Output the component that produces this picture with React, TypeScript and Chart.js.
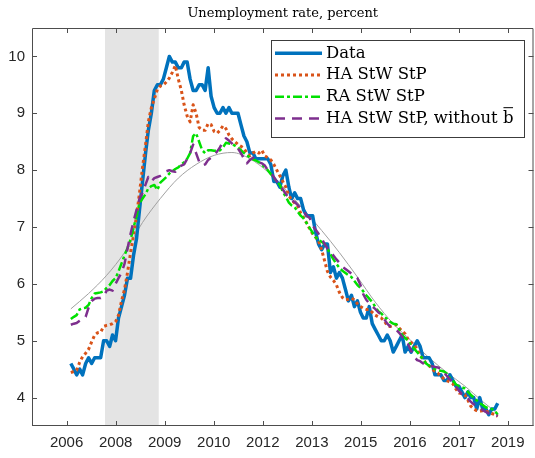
import React, { useEffect, useRef } from "react";
import { Chart, registerables } from "chart.js";

Chart.register(...registerables);

// ---------- data ----------
const START_YEAR = 2007; // monthly series start (January)
const MONTH_COUNT = 144;

const unemployment = [
  4.6, 4.5, 4.4, 4.5, 4.4, 4.6, 4.7, 4.6, 4.7, 4.7, 4.7, 5.0,
  5.0, 4.9, 5.1, 5.0, 5.4, 5.6, 5.8, 6.1, 6.1, 6.5, 6.8, 7.3,
  7.8, 8.3, 8.7, 9.0, 9.4, 9.5, 9.5, 9.6, 9.8, 10.0, 9.9, 9.9,
  9.8, 9.8, 9.9, 9.9, 9.6, 9.4, 9.4, 9.5, 9.5, 9.4, 9.8, 9.3,
  9.1, 9.0, 9.0, 9.1, 9.0, 9.1, 9.0, 9.0, 9.0, 8.8, 8.6, 8.5,
  8.3, 8.3, 8.2, 8.2, 8.2, 8.2, 8.2, 8.1, 7.8, 7.8, 7.7, 7.9,
  8.0, 7.7, 7.5, 7.6, 7.5, 7.5, 7.3, 7.2, 7.2, 7.2, 6.9, 6.7,
  6.6, 6.7, 6.7, 6.2, 6.3, 6.1, 6.2, 6.1, 5.9, 5.7, 5.8, 5.6,
  5.7, 5.5, 5.4, 5.4, 5.6, 5.3, 5.2, 5.1, 5.0, 5.0, 5.1, 5.0,
  4.8, 4.9, 5.0, 5.1, 4.8, 4.9, 4.8, 4.9, 5.0, 4.9, 4.7, 4.7,
  4.7, 4.6, 4.4, 4.4, 4.4, 4.3, 4.3, 4.4, 4.3, 4.2, 4.2, 4.1,
  4.0, 4.1, 4.0, 4.0, 3.8, 4.0, 3.8, 3.8, 3.7, 3.8, 3.8, 3.9,
];

const haStwStp = [
  4.44, 4.46, 4.48, 4.62, 4.72, 4.78, 4.85, 4.98, 5.1, 5.14, 5.15, 5.25,
  5.27, 5.28, 5.3, 5.33, 5.45, 5.7, 5.9, 6.2, 6.55, 6.85, 7.2, 7.6,
  8.05, 8.45, 8.85, 9.1, 9.25, 9.42, 9.48, 9.5, 9.55, 9.62, 9.72, 9.84,
  9.6, 9.4, 9.15, 8.95, 8.85, 9.15, 9.0, 8.75, 8.7, 8.7, 8.82, 8.8,
  8.68, 8.65, 8.7, 8.78, 8.73, 8.62, 8.55, 8.5, 8.45, 8.42, 8.38, 8.3,
  8.25, 8.3, 8.33, 8.3, 8.35, 8.25, 8.22, 8.18, 8.1, 8.0, 7.9, 7.8,
  7.7, 7.55, 7.48, 7.42, 7.37, 7.25, 7.17, 7.07, 6.97, 6.88, 6.82, 6.75,
  6.6, 6.4, 6.22, 6.12, 6.06, 5.98, 5.85, 5.76, 5.72, 5.73, 5.75, 5.72,
  5.65, 5.6, 5.57, 5.55, 5.55, 5.5, 5.45, 5.42, 5.4, 5.35, 5.27, 5.25,
  5.27, 5.28, 5.22, 5.17, 5.12, 5.02, 4.97, 4.92, 4.85, 4.74, 4.67, 4.6,
  4.56, 4.5, 4.46, 4.43, 4.37, 4.33, 4.3, 4.27, 4.24, 4.15, 4.08, 4.07,
  4.05, 3.95, 3.85, 3.8, 3.77, 3.76, 3.77, 3.77, 3.74, 3.72, 3.7, 3.67,
];

const raStwStp = [
  5.38, 5.42, 5.45, 5.55, 5.57, 5.58, 5.63, 5.75, 5.83, 5.84, 5.85, 5.87,
  5.93, 5.98, 6.05, 6.1, 6.22, 6.36, 6.5, 6.63, 6.78, 6.98, 7.2, 7.42,
  7.5, 7.58, 7.68, 7.72, 7.74, 7.65, 7.78, 7.83, 7.88, 7.94, 7.98, 8.02,
  8.05, 8.1, 8.14, 8.2, 8.3, 8.6, 8.65, 8.5, 8.35, 8.3, 8.35, 8.35,
  8.34, 8.34, 8.35, 8.4, 8.48, 8.47, 8.46, 8.43, 8.4, 8.35, 8.3, 8.26,
  8.22, 8.19, 8.17, 8.14, 8.1, 8.05, 8.0, 7.93, 7.87, 7.8, 7.74, 7.62,
  7.53, 7.43, 7.38, 7.35, 7.27, 7.2, 7.15, 7.07, 6.98, 6.9, 6.82, 6.77,
  6.74, 6.7, 6.62, 6.52, 6.43, 6.35, 6.28, 6.23, 6.19, 6.15, 6.12, 6.05,
  5.98, 5.93, 5.87, 5.8, 5.74, 5.68, 5.6, 5.52, 5.48, 5.42, 5.38, 5.33,
  5.3, 5.29, 5.2, 5.1, 5.05, 5.0, 4.92, 4.86, 4.8, 4.74, 4.67, 4.6,
  4.56, 4.53, 4.5, 4.48, 4.47, 4.46, 4.42, 4.34, 4.3, 4.23, 4.2, 4.18,
  4.16, 4.1, 4.05, 4.0, 3.95, 3.9, 3.87, 3.83, 3.81, 3.8, 3.77, 3.7,
];

const haStwStpNoB = [
  5.28, 5.3, 5.31, 5.35, 5.38, 5.42, 5.58, 5.7, 5.74, 5.75, 5.75, 5.78,
  5.88, 5.9, 5.88, 6.0, 6.1, 6.2, 6.35, 6.62, 6.88, 7.1, 7.3, 7.5,
  7.6, 7.75, 7.88, 7.8, 7.86, 7.88, 7.9, 7.94, 7.98, 8.0, 7.98, 7.97,
  8.05, 8.08, 8.1, 8.2, 8.3, 8.45, 8.3, 8.15, 8.08, 8.1, 8.18, 8.22,
  8.27, 8.33, 8.4, 8.5, 8.56, 8.52, 8.47, 8.42, 8.38, 8.3, 8.2, 8.12,
  8.18, 8.22, 8.18, 8.14, 8.12, 8.08, 8.0, 7.95, 7.88, 7.8, 7.76, 7.66,
  7.58, 7.52, 7.47, 7.44, 7.39, 7.33, 7.28, 7.2, 7.16, 7.03, 6.95, 6.88,
  6.8, 6.7, 6.62, 6.55, 6.5, 6.43, 6.37, 6.3, 6.26, 6.22, 6.18, 6.14,
  6.1, 5.98, 5.82, 5.72, 5.66, 5.6, 5.56, 5.5, 5.46, 5.38, 5.3, 5.25,
  5.22, 5.19, 5.14, 5.07, 5.0, 4.94, 4.82, 4.72, 4.66, 4.64, 4.6, 4.58,
  4.56, 4.55, 4.54, 4.53, 4.5, 4.44, 4.38, 4.32, 4.26, 4.2, 4.12, 4.06,
  4.04, 3.98, 3.93, 3.88, 3.86, 3.82, 3.78, 3.75, 3.72, 3.7, 3.69, 3.68,
];

// smooth trend (thin grey line), sampled every six months
const trendMonthIndex = [0, 6, 12, 18, 24, 30, 36, 42, 48, 54, 60, 66, 72, 78, 84, 90, 96, 102, 108, 114, 120, 126, 132, 138, 143];
const trendValues = [5.56, 5.83, 6.15, 6.55, 7.08, 7.5, 7.86, 8.1, 8.26, 8.31, 8.2, 7.97, 7.65, 7.31, 6.94, 6.55, 6.12, 5.68, 5.3, 5.0, 4.7, 4.44, 4.2, 3.93, 3.72];

const xTickDates = ["2006-11-19", "2008-04-02", "2009-08-15", "2010-12-28", "2012-05-11", "2013-09-23", "2015-02-04", "2016-06-18", "2017-10-31", "2019-03-14"];
const xTickLabels = ["2006", "2008", "2009", "2010", "2012", "2013", "2015", "2016", "2017", "2019"];
const yTickValues = [4, 5, 6, 7, 8, 9, 10];
const xRange = ["2005-12-01", "2019-12-01"];
const yRange = [3.5, 10.5];
const recession = ["2007-12-15", "2009-06-15"];

const seriesLabels = ["Data", "HA StW StP", "RA StW StP", "HA StW StP, without "];
const TITLE = "Unemployment rate, percent";

// ---------- styles ----------
const BLUE = "#0072BD";
const ORANGE = "#D95319";
const GREEN = "#00E000";
const PURPLE = "#7E2F8E";
const GREY = "#a0a0a0";
const AXIS = "#4d4d4d";
const TEXT = "#262626";
const SERIF = "'DejaVu Serif', serif";
const SANS = "'Liberation Sans', Arial, sans-serif";

const styles = [
  { color: BLUE, width: 3.5, dash: [] as number[] },
  { color: ORANGE, width: 3, dash: [3, 3] },
  { color: GREEN, width: 2.5, dash: [9, 3, 3, 3] },
  { color: PURPLE, width: 2.5, dash: [10, 7] },
];

const dayOf = (iso: string) => Date.parse(iso + "T00:00:00Z") / 86400000;
const monthDay = (i: number) => Date.UTC(START_YEAR, i, 1) / 86400000;
const monthly = (vals: number[]) => vals.slice(0, MONTH_COUNT).map((v, i) => ({ x: monthDay(i), y: v }));
const xTickDays = xTickDates.map(dayOf);

const decorPlugin = {
  id: "decor",
  beforeDatasetsDraw(chart: any) {
    const { ctx, chartArea: a, scales } = chart;
    const x0 = scales.x.getPixelForValue(dayOf(recession[0]));
    const x1 = scales.x.getPixelForValue(dayOf(recession[1]));
    ctx.save();
    ctx.fillStyle = "#e4e4e4";
    ctx.fillRect(x0, a.top, x1 - x0, a.bottom - a.top);
    ctx.restore();
  },
  afterDatasetsDraw(chart: any) {
    const { ctx, chartArea: a, scales } = chart;
    ctx.save();
    // frame
    ctx.strokeStyle = AXIS;
    ctx.lineWidth = 1;
    ctx.beginPath();
    ctx.moveTo(a.left + 0.5, a.top + 0.5);
    ctx.lineTo(a.right - 0.5, a.top + 0.5);
    ctx.lineTo(a.right - 0.5, a.bottom);
    ctx.moveTo(a.left + 0.5, a.top + 0.5);
    ctx.lineTo(a.left + 0.5, a.bottom);
    ctx.moveTo(a.left, a.bottom - 0.5);
    ctx.lineTo(a.right, a.bottom - 0.5);
    ctx.stroke();
    // inward ticks
    const tl = 5;
    ctx.beginPath();
    xTickDays.forEach((d) => {
      const px = Math.round(scales.x.getPixelForValue(d)) + 0.5;
      ctx.moveTo(px, a.bottom);
      ctx.lineTo(px, a.bottom - tl);
      ctx.moveTo(px, a.top);
      ctx.lineTo(px, a.top + tl);
    });
    yTickValues.forEach((v) => {
      const py = Math.round(scales.y.getPixelForValue(v)) + 0.5;
      ctx.moveTo(a.left, py);
      ctx.lineTo(a.left + tl, py);
      ctx.moveTo(a.right, py);
      ctx.lineTo(a.right - tl, py);
    });
    ctx.stroke();

    // title
    ctx.fillStyle = "#000";
    ctx.font = `13px ${SERIF}`;
    ctx.textAlign = "center";
    ctx.textBaseline = "middle";
    ctx.fillText(TITLE, (a.left + a.right) / 2, a.top - 14);

    // legend
    const bx = a.right - 262.5;
    const by = a.top + 12;
    const bw = 253;
    const bh = 97;
    ctx.fillStyle = "#fff";
    ctx.fillRect(bx, by, bw, bh);
    ctx.strokeStyle = "#3c3c3c";
    ctx.lineWidth = 1;
    ctx.strokeRect(Math.round(bx) + 0.5, Math.round(by) + 0.5, bw, bh);
    ctx.font = `16.5px ${SERIF}`;
    ctx.textAlign = "left";
    ctx.textBaseline = "middle";
    seriesLabels.forEach((lab, i) => {
      const st = styles[i];
      const ly = by + 13.3 + i * 21.7;
      ctx.save();
      ctx.strokeStyle = st.color;
      ctx.lineWidth = st.width;
      ctx.setLineDash(st.dash);
      ctx.lineCap = "butt";
      ctx.beginPath();
      ctx.moveTo(bx + 4, ly);
      ctx.lineTo(bx + 51, ly);
      ctx.stroke();
      ctx.restore();
      ctx.fillStyle = "#000";
      const tx = bx + 55;
      ctx.fillText(lab, tx, ly);
      if (i === 3) {
        const w0 = ctx.measureText(lab).width;
        ctx.fillText("b", tx + w0, ly);
        const mb = ctx.measureText("b");
        const top = ly - (mb.actualBoundingBoxAscent || 12) - 2;
        ctx.strokeStyle = "#000";
        ctx.lineWidth = 1;
        ctx.beginPath();
        ctx.moveTo(tx + w0 + 0.5, top);
        ctx.lineTo(tx + w0 + mb.width - 0.5, top);
        ctx.stroke();
      }
    });
    ctx.restore();
  },
};

export default function App() {
  const ref = useRef<HTMLCanvasElement>(null);
  useEffect(() => {
    if (!ref.current) return;
    const mk = (label: string, data: any[], i: number, order: number) => ({
      label,
      data,
      borderColor: styles[i].color,
      borderWidth: styles[i].width,
      borderDash: styles[i].dash,
      borderCapStyle: "butt",
      borderJoinStyle: "round",
      pointRadius: 0,
      fill: false,
      tension: 0,
      order,
    });
    const chart = new Chart(ref.current, {
      type: "line",
      data: {
        datasets: [
          {
            label: "trend",
            data: trendMonthIndex.map((m, i) => ({ x: monthDay(m), y: trendValues[i] })),
            borderColor: GREY,
            borderWidth: 1,
            pointRadius: 0,
            fill: false,
            cubicInterpolationMode: "monotone",
            order: 6,
          } as any,
          mk(seriesLabels[0], monthly(unemployment), 0, 5),
          mk(seriesLabels[1], monthly(haStwStp), 1, 4),
          mk(seriesLabels[2], monthly(raStwStp), 2, 3),
          mk(seriesLabels[3], monthly(haStwStpNoB), 3, 2),
        ],
      },
      options: {
        responsive: false,
        animation: false,
        devicePixelRatio: 1,
        layout: { padding: { top: 28, right: 1.5, left: 0, bottom: 0 } },
        plugins: {
          legend: { display: false },
          tooltip: { enabled: false },
          title: { display: false },
        },
        scales: {
          x: {
            type: "linear",
            min: dayOf(xRange[0]),
            max: dayOf(xRange[1]),
            grid: { display: false, drawTicks: false },
            border: { display: false },
            ticks: {
              autoSkip: false,
              maxRotation: 0,
              padding: 8,
              color: TEXT,
              font: { family: SANS, size: 15 },
              callback: (v: any) => {
                const k = xTickDays.indexOf(v);
                return k >= 0 ? xTickLabels[k] : "";
              },
            },
            afterBuildTicks: (s: any) => {
              s.ticks = xTickDays.map((v) => ({ value: v }));
            },
            afterFit: (s: any) => {
              s.height = 32;
            },
          },
          y: {
            min: yRange[0],
            max: yRange[1],
            grid: { display: false, drawTicks: false },
            border: { display: false },
            ticks: {
              padding: 7,
              color: TEXT,
              font: { family: SANS, size: 15 },
            },
            afterBuildTicks: (s: any) => {
              s.ticks = yTickValues.map((v) => ({ value: v }));
            },
            afterFit: (s: any) => {
              s.width = 32;
            },
          },
        },
      } as any,
      plugins: [decorPlugin],
    });
    return () => chart.destroy();
  }, []);
  return (
    <div style={{ position: "absolute", left: 0, top: 0, width: 535, height: 458, background: "#fff" }}>
      <canvas ref={ref} width={535} height={458} />
    </div>
  );
}
